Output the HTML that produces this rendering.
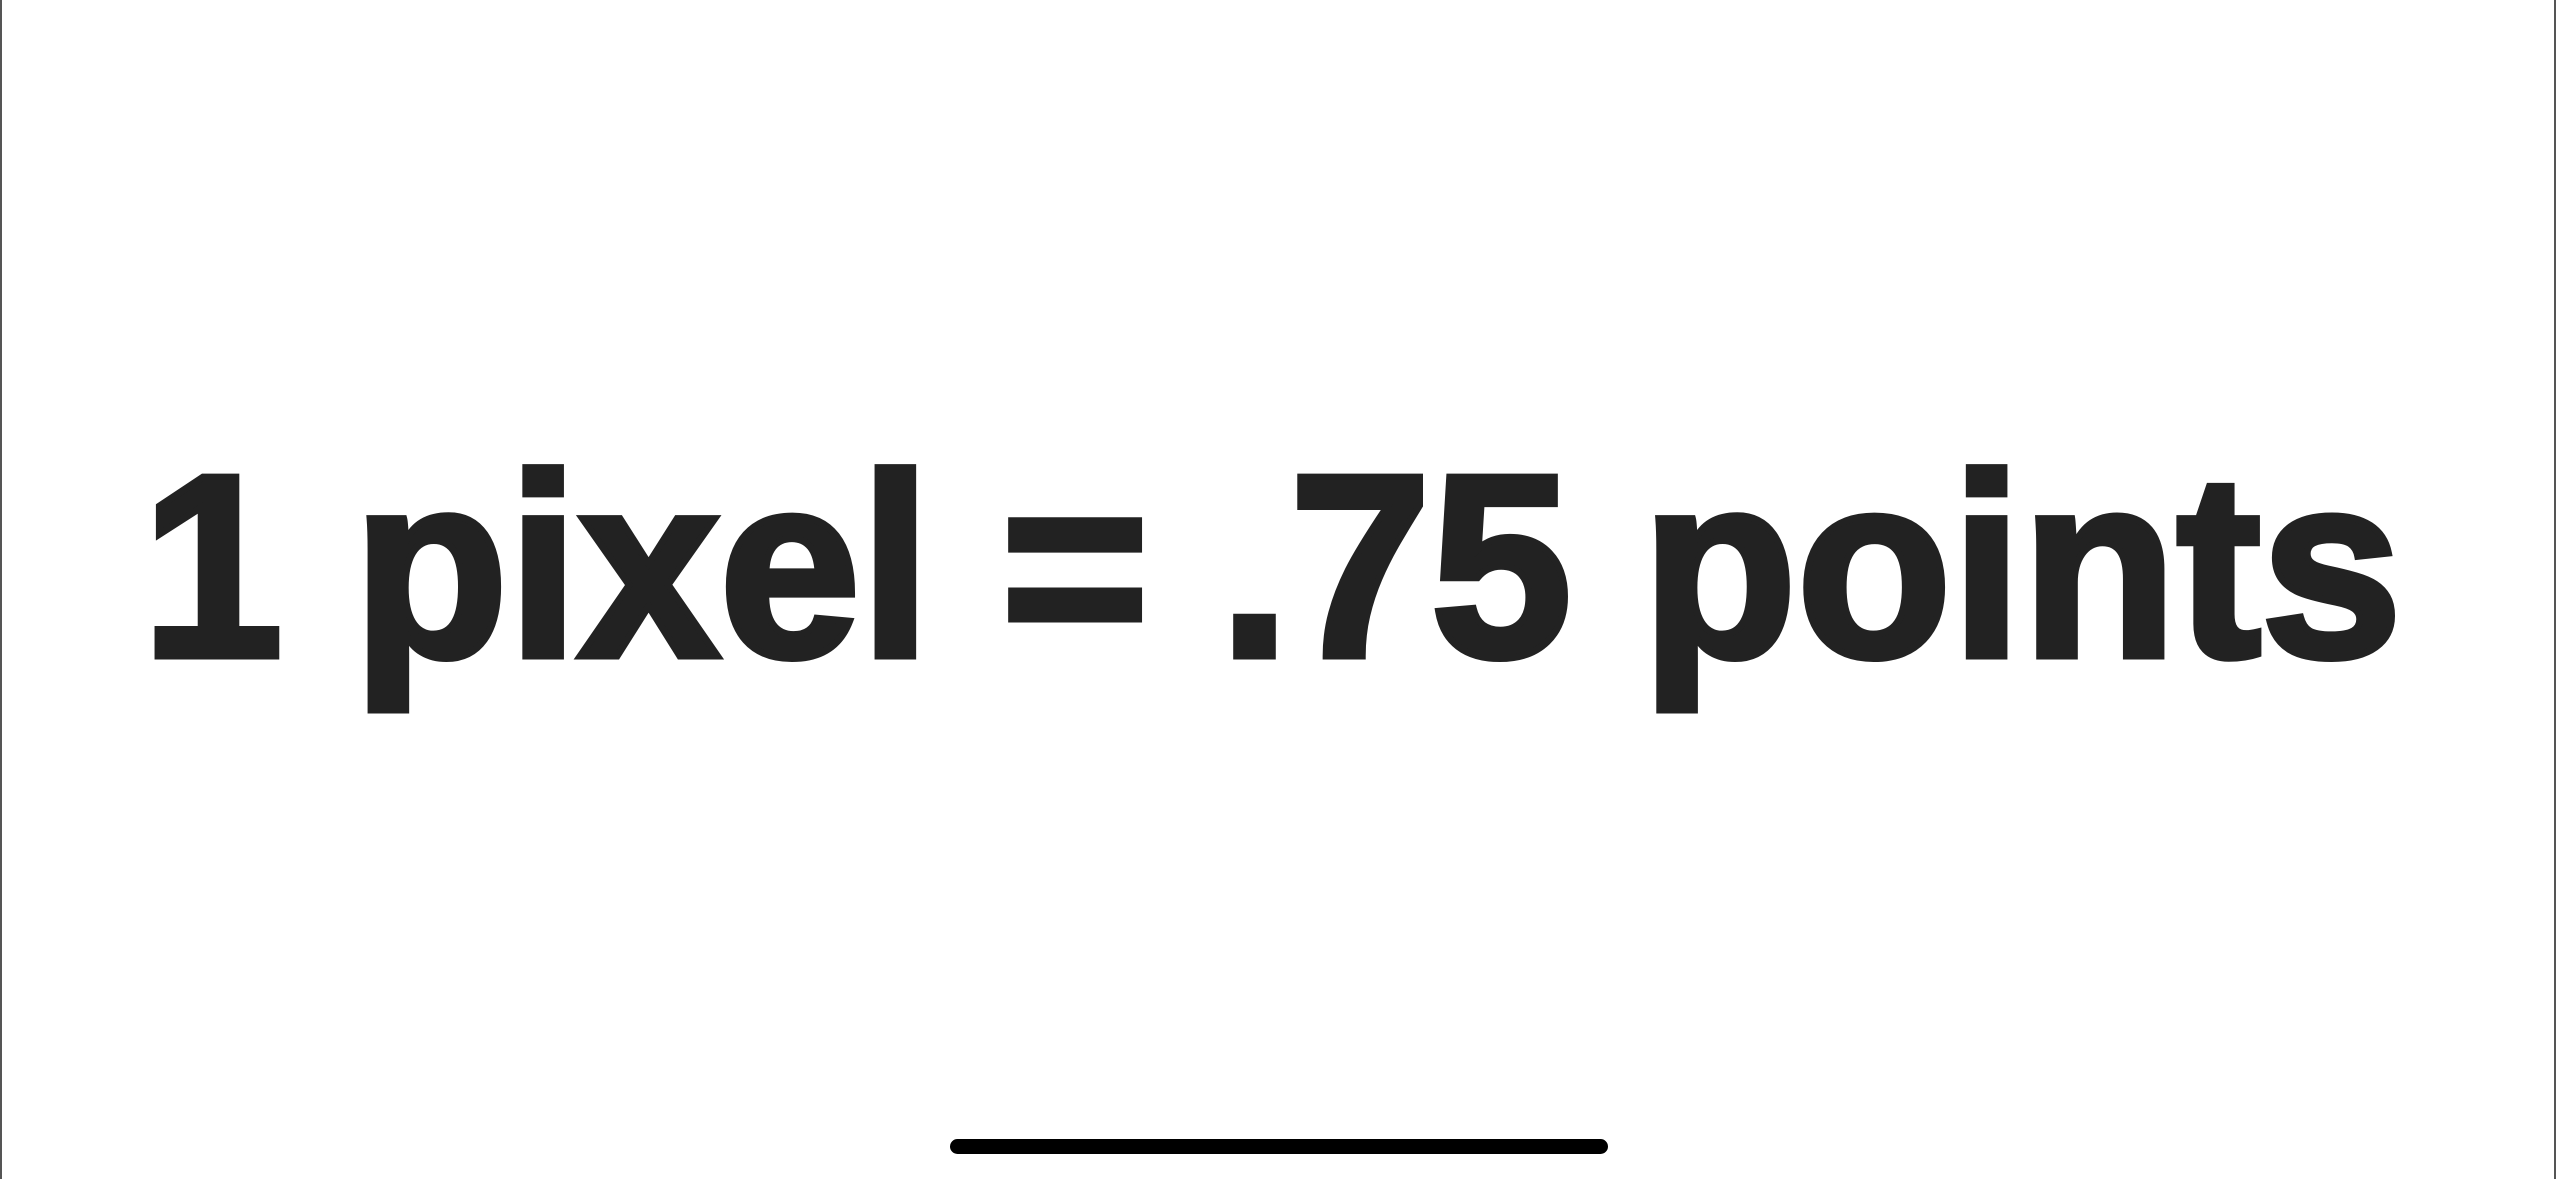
<!DOCTYPE html>
<html><head><meta charset="utf-8"><style>
html,body{margin:0;padding:0;background:#fff;}
#root{position:relative;width:2556px;height:1179px;overflow:hidden;background:#fff;}
</style></head><body>
<div id="root">
<svg width="2556" height="1179" viewBox="0 0 2556 1179">
<rect x="0" y="0" width="2" height="1179" fill="#555"/>
<rect x="2554" y="0" width="2" height="1179" fill="#555"/>
<text x="142" y="656" font-family="Liberation Sans, sans-serif" font-weight="bold" font-size="260" fill="#222" stroke="#222" stroke-width="7" stroke-linejoin="miter" textLength="2260" lengthAdjust="spacingAndGlyphs">1 pixel = .75 points</text>
<rect x="950" y="1139" width="658" height="15" rx="7.5" fill="#000"/>
</svg>
</div>
</body></html>
